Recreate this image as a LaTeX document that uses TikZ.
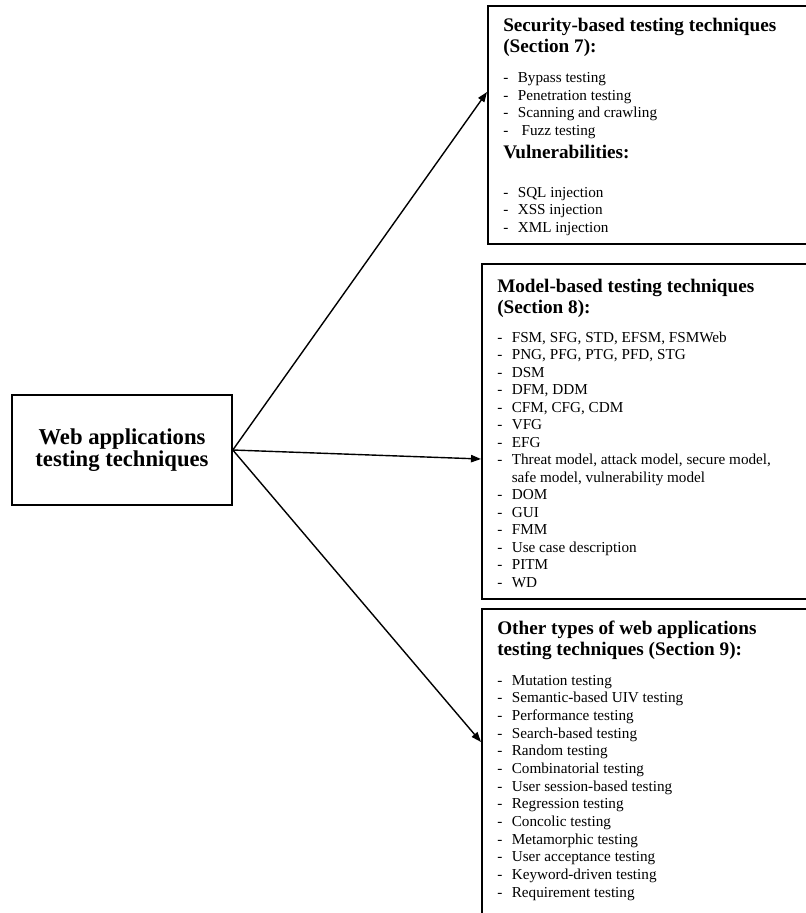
\documentclass[tikz,border=0pt]{standalone}
\usepackage{fontspec}
\setmainfont{Liberation Serif}
\usetikzlibrary{arrows.meta}
\newdimen\pxu \pxu=0.75pt
\newcommand{\itm}[1]{\makebox[10.9pt][l]{-}#1}
\tikzset{
  panel/.style={draw, line width=1.2pt, anchor=north west, inner sep=0pt},
  headtxt/.style={anchor=base west, align=left, inner sep=0pt, font=\fontsize{14.4}{15.75}\selectfont\bfseries},
  listtxt/.style={anchor=base west, align=left, inner sep=0pt, font=\fontsize{11.4}{13.125}\selectfont},
  link/.style={-{Triangle[length=7.5pt,width=5.5pt]}, line width=1.05pt}
}

\begin{document}
\begin{tikzpicture}[x=0.75pt,y=-0.75pt]
        \useasboundingbox (0,0) rectangle (806,913);
        \clip (0,0) rectangle (806,913);
        % main box
        \node[draw, line width=1.2pt, minimum width=220\pxu, minimum height=110\pxu, align=center,
          font=\fontsize{17}{16.5}\selectfont\bfseries] (web) at (122,450)
          {Web applications\\testing techniques};
        % security box (text placed by last baseline)
        \node[panel, minimum width=330\pxu, minimum height=238\pxu] (sec) at (487,5) {};
        \node[headtxt] (secHead) at (503,53) {Security-based testing techniques\\(Section 7):};
        \node[listtxt] (secList) at (503,135.5)
          {\itm{Bypass testing}\\\itm{Penetration testing}\\\itm{Scanning and crawling}\\\itm{~Fuzz testing}};
        \node[headtxt] (vulHead) at (503,159) {Vulnerabilities:};
        \node[listtxt] (vulList) at (503,232)
          {\itm{SQL injection}\\\itm{XSS injection}\\\itm{XML injection}};
        % model box
        \node[panel, minimum width=340\pxu, minimum height=335\pxu] (mod) at (481,263) {};
        \node[headtxt] (modHead) at (497,313) {Model-based testing techniques\\(Section 8):};
        \node[listtxt] (modList) at (497,587)
          {\itm{FSM, SFG, STD, EFSM, FSMWeb}\\\itm{PNG, PFG, PTG, PFD, STG}\\\itm{DSM}\\\itm{DFM, DDM}\\
           \itm{CFM, CFG, CDM}\\\itm{VFG}\\\itm{EFG}\\\itm{Threat model, attack model, secure model,}\\
           \hspace*{10.9pt}safe model, vulnerability model\\\itm{DOM}\\\itm{GUI}\\\itm{FMM}\\
           \itm{Use case description}\\\itm{PITM}\\\itm{WD}};
        % other box
        \node[panel, minimum width=340\pxu, minimum height=330\pxu] (oth) at (481,608) {};
        \node[headtxt] (othHead) at (497,655) {Other types of web applications\\testing techniques (Section 9):};
        \node[listtxt, font=\fontsize{11.4}{13.25}\selectfont] (othList) at (497,897)
          {\itm{Mutation testing}\\\itm{Semantic-based UIV testing}\\\itm{Performance testing}\\
           \itm{Search-based testing}\\\itm{Random testing}\\\itm{Combinatorial testing}\\
           \itm{User session-based testing}\\\itm{Regression testing}\\\itm{Concolic testing}\\
           \itm{Metamorphic testing}\\\itm{User acceptance testing}\\\itm{Keyword-driven testing}\\
           \itm{Requirement testing}};
        % arrow ends
        \coordinate (secIn) at (487,92);
        \coordinate (modIn) at (481,459);
        \coordinate (othIn) at (481,742);
        \draw[link] (web.east) -- (secIn);
        \draw[link] (web.east) -- (modIn);
        \draw[link] (web.east) -- (othIn);
    \end{tikzpicture}
\end{document}
